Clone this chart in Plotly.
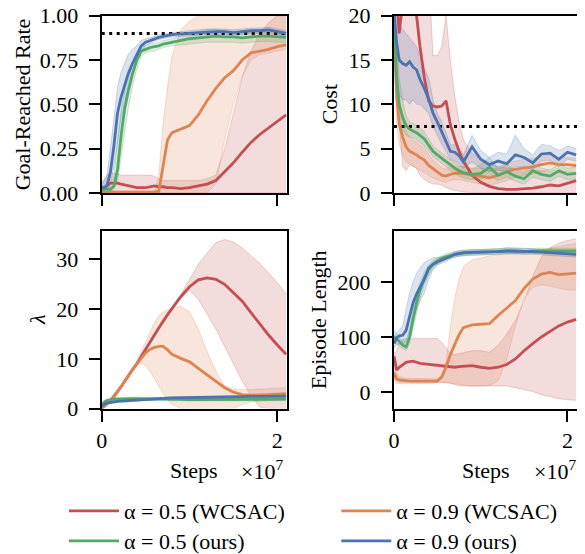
import plotly.graph_objects as go

FONT = "Liberation Serif"
FS = 22

RED = "#C44E52"
ORANGE = "#DD8452"
GREEN = "#55A868"
BLUE = "#4C72B0"

steps = [0, 0.03, 0.06, 0.1, 0.14, 0.18, 0.22, 0.26, 0.3, 0.35, 0.4, 0.45, 0.5, 0.55, 0.6, 0.65,
         0.7, 0.75, 0.8, 0.9, 1.0, 1.1, 1.2, 1.3, 1.4, 1.5, 1.6, 1.7, 1.8, 1.9, 2.0, 2.1]

series_names = ["α = 0.5 (WCSAC)", "α = 0.9 (WCSAC)", "α = 0.5 (ours)", "α = 0.9 (ours)"]
y_titles = ["Goal-Reached Rate", "Cost", "<i>λ</i>", "Episode Length"]
x_title = "Steps"

# ---- Goal-Reached Rate ----
goal_red = [0.02,0.03,0.045,0.055,0.055,0.055,0.05,0.045,0.04,0.035,0.03,0.03,0.03,0.035,0.04,0.035,0.035,0.03,0.03,0.025,0.03,0.04,0.05,0.07,0.12,0.17,0.23,0.285,0.33,0.365,0.4,0.44]
goal_red_lo = [0,0,0,0,0,0,0,0,0,0,0,0,0,0,0,0,0,0,0,0,0,0,0,0,0,0,0,0,0,0,0,0]
goal_red_hi = [0.04,0.08,0.1,0.11,0.11,0.11,0.1,0.1,0.1,0.1,0.1,0.1,0.1,0.1,0.095,0.08,0.07,0.07,0.07,0.07,0.07,0.07,0.08,0.1,0.25,0.45,0.65,0.8,0.9,0.96,1.0,1.0]
goal_orange = [0.005,0.005,0.005,0.005,0.005,0.005,0.005,0.005,0.005,0.005,0.005,0.005,0.005,0.005,0.005,0.01,0.16,0.3,0.34,0.36,0.38,0.44,0.52,0.59,0.65,0.69,0.75,0.79,0.8,0.81,0.825,0.835]
goal_orange_lo = [0,0,0,0,0,0,0,0,0,0,0,0,0,0,0,0,0,0,0,0,0,0,0,0.05,0.3,0.5,0.66,0.75,0.78,0.79,0.8,0.81]
goal_orange_hi = [0.01,0.01,0.01,0.01,0.01,0.01,0.01,0.01,0.01,0.01,0.01,0.01,0.01,0.01,0.01,0.1,0.4,0.6,0.77,0.92,0.97,1.0,1.0,1.0,1.0,1.0,1.0,1.0,1.0,1.0,1.0,1.0]
goal_green = [0.02,0.02,0.02,0.02,0.04,0.13,0.32,0.47,0.57,0.67,0.75,0.8,0.81,0.82,0.825,0.83,0.84,0.845,0.85,0.86,0.87,0.875,0.88,0.885,0.88,0.88,0.875,0.88,0.885,0.885,0.88,0.878]
goal_green_lo = [0.0,0.0,0.0,0.0,0.02,0.06,0.2,0.35,0.47,0.6,0.7,0.77,0.79,0.8,0.8,0.81,0.82,0.825,0.83,0.835,0.84,0.845,0.85,0.85,0.85,0.85,0.845,0.85,0.855,0.855,0.85,0.85]
goal_green_hi = [0.04,0.04,0.05,0.05,0.1,0.28,0.46,0.58,0.66,0.73,0.79,0.83,0.83,0.84,0.845,0.85,0.86,0.865,0.87,0.885,0.9,0.91,0.92,0.925,0.915,0.91,0.905,0.91,0.92,0.92,0.91,0.905]
goal_blue = [0.03,0.03,0.04,0.12,0.27,0.45,0.54,0.61,0.67,0.73,0.785,0.83,0.85,0.86,0.87,0.878,0.883,0.888,0.893,0.897,0.9,0.905,0.91,0.91,0.91,0.905,0.91,0.915,0.915,0.92,0.91,0.9]
goal_blue_lo = [0.0,0.0,0.01,0.05,0.15,0.3,0.42,0.5,0.58,0.67,0.75,0.8,0.83,0.845,0.855,0.865,0.87,0.875,0.88,0.885,0.885,0.89,0.895,0.895,0.895,0.89,0.895,0.9,0.9,0.905,0.895,0.885]
goal_blue_hi = [0.06,0.07,0.1,0.25,0.42,0.6,0.68,0.73,0.78,0.81,0.83,0.86,0.87,0.875,0.885,0.89,0.895,0.9,0.905,0.91,0.915,0.92,0.925,0.925,0.925,0.92,0.925,0.93,0.93,0.935,0.925,0.915]

# ---- Cost ----
cost_red = [25,22,18,22,25,24,22,20,16.5,13,10.4,9.8,9.7,9.8,10.4,7.7,6.1,4.7,3.6,2.0,1.2,0.75,0.5,0.4,0.4,0.45,0.55,0.7,0.9,0.8,1.1,1.4]
cost_red_lo = [20,14,8,3,2.5,3.2,3.0,2.8,2.0,1.5,1.2,1.0,1.0,0.9,0.6,0.4,0.3,0.2,0.1,0.05,0,0,0,0,0,0,0,0,0,0,0,0]
cost_red_hi = [30,30,30,30,30,30,30,30,30,30,25,15.5,15.5,16.5,20,15,11,8,6,4.5,3.8,3.3,3.0,2.8,2.7,2.6,2.6,2.5,2.4,2.3,2.2,2.3]
cost_orange = [19,11,7.8,6.3,5.2,4.7,4.5,4.3,4.0,3.7,3.1,2.7,2.4,2.0,1.9,2.1,2.2,2.25,2.2,2.0,1.9,1.7,2.0,2.4,2.7,2.8,2.95,3.2,3.4,3.2,3.2,3.1]
cost_orange_lo = [17,8,5.5,4.3,3.5,3.2,3.0,2.8,2.6,2.3,2.0,1.7,1.5,1.3,1.2,1.4,1.5,1.5,1.4,1.2,1.0,0.9,1.1,1.4,1.8,2.0,2.1,2.4,2.6,2.4,2.4,2.3]
cost_orange_hi = [21,15,10.5,8.5,7.0,6.3,6.0,5.8,5.4,5.0,4.3,3.7,3.3,2.8,2.7,3.0,3.0,3.0,3.0,2.8,2.8,2.6,2.9,3.4,3.6,3.8,3.9,4.1,4.3,4.0,4.0,3.9]
cost_green = [19,13,10,8.5,7.6,7.2,7.0,6.8,6.5,6.1,5.4,4.7,4.3,3.9,3.5,3.2,2.8,2.5,2.3,2.1,2.2,2.9,2.0,2.4,1.9,1.6,2.5,2.1,1.9,2.5,2.1,2.2]
cost_green_lo = [16,10,8,7,6.5,6.3,6.2,6.0,5.7,5.3,4.7,4.1,3.7,3.3,2.9,2.6,2.2,1.9,1.7,1.5,1.5,1.9,1.4,1.8,1.3,1.0,1.8,1.5,1.3,1.9,1.5,1.6]
cost_green_hi = [20,17,13,10.5,8.7,8.0,7.8,7.6,7.3,6.9,6.1,5.3,4.9,4.5,4.1,3.8,3.4,3.1,2.9,2.7,3.2,4.0,2.7,3.2,2.6,2.3,3.3,2.8,2.6,3.2,2.8,2.9]
cost_blue = [20.5,17,15,14.6,14.4,14.8,14.2,13.9,12.8,11.8,10.6,9.0,8.0,6.9,5.6,4.7,4.6,4.2,3.5,5.2,3.8,3.2,3.6,3.3,4.3,4.0,3.4,4.4,4.5,3.8,4.6,4.3]
cost_blue_lo = [19,13,11,10.5,10.5,10,10.5,10,10,9.5,9,7.5,6.5,5.5,4.7,3.8,3.6,3.3,2.8,3.5,2.8,2.4,2.6,2.4,3.0,3.0,2.6,3.6,3.7,3.0,3.8,3.6]
cost_blue_hi = [22,20.5,19,18.5,18,17.5,17,16.5,15.5,14,13,10.5,9,8,6.8,5.4,5.5,5.1,4.3,6.5,4.8,4.0,4.6,4.4,6.5,5.0,4.3,5.5,5.3,4.8,5.3,5.0]

# ---- Lambda ----
lam_red = [0,0.6,1.0,1.6,2.4,3.4,4.4,5.5,6.5,7.8,9.0,10.5,12.0,13.4,14.8,16.2,17.6,18.9,20.1,22.5,24.5,25.9,26.3,26.0,25.0,23.4,21.6,19.3,17.0,14.8,12.8,10.9]
lam_red_lo = [0,0.4,0.8,1.3,2.1,3.1,4.1,5.2,6.2,7.5,8.7,10.2,11.7,13.1,14.5,15.9,17.3,18.6,19.8,22.1,23.8,22,19,16,12.5,9,5.5,2.5,0.3,0,0,0]
lam_red_hi = [0.2,0.8,1.2,1.9,2.7,3.7,4.7,5.8,6.8,8.1,9.3,10.8,12.3,13.7,15.1,16.5,17.9,19.2,20.4,22.9,26,29,31.3,33.4,34,33.5,32.3,30.8,29.2,27.3,25.3,23]
lam_orange = [0,0.6,1.0,1.6,2.4,3.4,4.4,5.5,6.5,7.8,9.0,10.2,11.2,11.9,12.3,12.5,12.5,11.8,10.9,10.1,9.4,8.1,6.8,5.5,4.2,3.3,2.8,2.7,2.7,2.8,2.9,3.0]
lam_orange_lo = [0,0.4,0.8,1.3,2.1,3.1,4.1,5.2,6.2,7.5,8.8,9.1,8.6,7.5,6.0,4.5,3.0,1.8,0.8,0,0,0,0,0,0,0,0.8,1.3,1.5,1.6,1.7,1.8]
lam_orange_hi = [0.2,0.8,1.2,1.9,2.7,3.7,4.7,5.8,6.8,8.1,9.5,11.5,13.5,15.5,17.3,18.7,19.4,19.9,20.3,20.6,19.5,16,11.5,7.5,4.6,3.9,3.8,3.8,3.9,4.0,4.1,4.2]
lam_green = [0.5,1.3,1.6,1.8,1.9,1.9,1.95,1.95,2.0,2.0,2.0,2.0,2.0,2.0,2.0,2.0,2.0,1.95,1.9,1.85,1.8,1.8,1.85,1.9,1.9,1.9,1.9,1.9,1.9,1.9,1.9,1.9]
lam_green_lo = [0.3,1.0,1.3,1.5,1.6,1.6,1.65,1.65,1.7,1.7,1.7,1.7,1.7,1.7,1.7,1.7,1.7,1.65,1.6,1.55,1.5,1.5,1.55,1.6,1.6,1.6,1.6,1.6,1.6,1.6,1.6,1.6]
lam_green_hi = [0.7,1.6,1.9,2.1,2.2,2.2,2.25,2.25,2.3,2.3,2.3,2.3,2.3,2.3,2.3,2.3,2.3,2.25,2.2,2.15,2.1,2.1,2.15,2.2,2.2,2.2,2.2,2.2,2.2,2.2,2.2,2.2]
lam_blue = [0.5,0.9,1.1,1.25,1.35,1.45,1.5,1.55,1.6,1.7,1.8,1.85,1.9,1.95,2.0,2.05,2.1,2.12,2.15,2.2,2.25,2.3,2.32,2.35,2.38,2.4,2.42,2.44,2.45,2.46,2.48,2.5]
lam_blue_lo = [0.3,0.7,0.9,1.05,1.15,1.25,1.3,1.35,1.4,1.5,1.6,1.65,1.7,1.75,1.8,1.85,1.9,1.92,1.95,2.0,2.05,2.1,2.12,2.15,2.18,2.2,2.22,2.24,2.25,2.26,2.28,2.3]
lam_blue_hi = [0.7,1.1,1.3,1.45,1.55,1.65,1.7,1.75,1.8,1.9,2.0,2.05,2.1,2.15,2.2,2.25,2.3,2.32,2.35,2.4,2.45,2.5,2.52,2.55,2.58,2.6,2.62,2.64,2.65,2.66,2.68,2.7]

# ---- Episode Length ----
ep_red = [65,40,45,50,54,55,56,54,52,51,50,49,48,47,47,45,45,46,47,48,45,43,45,50,60,75,88,100,110,120,127,132]
ep_red_lo = [25,20,18,18,18,18,18,18,18,18,18,18,18,18,18,16,14,11,11,11,11,11,11,11,8,5,1,-5,-9,-12,-14,-15]
ep_red_hi = [70,75,90,95,97,97,97,97,97,97,97,97,97,90,80,70,68,70,72,75,75,72,85,105,130,165,210,245,262,270,275,278]
ep_orange = [35,24,22,21,20,20,20,20,20,20,20,20,20,27,45,68,86,104,117,122,123,124,139,152,166,188,205,214,217,213,215,216]
ep_orange_lo = [20,15,15,15,15,15,15,15,15,15,15,16,17,17,17,16,15,14,12,11,11,12,20,60,120,170,190,195,192,188,185,185]
ep_orange_hi = [60,35,28,26,25,25,25,25,25,25,25,25,24,30,55,120,170,205,228,240,244,247,249,250,252,253,255,258,262,265,268,270]
ep_green = [100,97,92,85,82,100,132,162,185,207,222,232,238,243,246,248,250,251,252,253,254,255,255,256,256,255,256,256,255,255,256,256]
ep_green_lo = [90,88,84,78,76,88,115,145,170,195,212,225,232,237,241,243,245,246,247,248,249,250,250,251,251,250,251,251,250,250,251,251]
ep_green_hi = [112,106,100,92,90,115,150,180,198,218,230,239,244,248,251,253,255,256,257,258,259,260,260,261,261,260,261,261,260,260,261,261]
ep_blue = [88,98,102,103,112,140,162,178,190,205,225,232,236,239,242,246,250,252,253,254,254,254,255,256,256,256,255,254,253,252,251,250]
ep_blue_lo = [80,85,88,85,95,110,130,150,165,180,205,222,230,234,237,241,245,247,248,249,249,249,250,251,251,251,250,249,248,247,246,245]
ep_blue_hi = [100,108,112,120,150,180,200,215,225,235,240,244,244,245,247,251,255,257,258,259,259,259,260,262,262,261,260,259,258,257,256,255]

panels = [
    ("x", "y", [(goal_red, goal_red_lo, goal_red_hi), (goal_orange, goal_orange_lo, goal_orange_hi),
                (goal_green, goal_green_lo, goal_green_hi), (goal_blue, goal_blue_lo, goal_blue_hi)], 0.9),
    ("x2", "y2", [(cost_red, cost_red_lo, cost_red_hi), (cost_orange, cost_orange_lo, cost_orange_hi),
                  (cost_green, cost_green_lo, cost_green_hi), (cost_blue, cost_blue_lo, cost_blue_hi)], 7.5),
    ("x3", "y3", [(lam_red, lam_red_lo, lam_red_hi), (lam_orange, lam_orange_lo, lam_orange_hi),
                  (lam_green, lam_green_lo, lam_green_hi), (lam_blue, lam_blue_lo, lam_blue_hi)], None),
    ("x4", "y4", [(ep_red, ep_red_lo, ep_red_hi), (ep_orange, ep_orange_lo, ep_orange_hi),
                  (ep_green, ep_green_lo, ep_green_hi), (ep_blue, ep_blue_lo, ep_blue_hi)], None),
]

colors = [RED, ORANGE, GREEN, BLUE]
legend_ids = ["legend", "legend2", "legend3", "legend4"]
groups = ["r", "o", "g", "b"]


def rgba(hexc, a):
    h = hexc.lstrip("#")
    return "rgba(%d,%d,%d,%s)" % (int(h[0:2], 16), int(h[2:4], 16), int(h[4:6], 16), a)


fig = go.Figure()
X_MAX = 2.11

for pi, (xa, ya, sers, thresh) in enumerate(panels):
    for si, (mean, lo, hi) in enumerate(sers):
        c = colors[si]
        fig.add_trace(go.Scatter(x=steps, y=hi, xaxis=xa, yaxis=ya, mode="lines",
                                 line=dict(color=rgba(c, 0.25), width=1), showlegend=False,
                                 legendgroup=groups[si], hoverinfo="skip"))
        fig.add_trace(go.Scatter(x=steps, y=lo, xaxis=xa, yaxis=ya, mode="lines",
                                 line=dict(color=rgba(c, 0.25), width=1), fill="tonexty",
                                 fillcolor=rgba(c, 0.2), showlegend=False,
                                 legendgroup=groups[si], hoverinfo="skip"))
    if thresh is not None:
        fig.add_trace(go.Scatter(x=[0, X_MAX], y=[thresh, thresh], xaxis=xa, yaxis=ya, mode="lines",
                                 line=dict(color="black", width=3, dash="3px,4.5px"),
                                 showlegend=False, hoverinfo="skip"))
    for si, (mean, lo, hi) in enumerate(sers):
        fig.add_trace(go.Scatter(x=steps, y=mean, xaxis=xa, yaxis=ya, mode="lines",
                                 line=dict(color=colors[si], width=2.8),
                                 name=series_names[si], legendgroup=groups[si],
                                 legend=legend_ids[si], showlegend=(pi == 0)))

# The HTML body has an 8px margin: the figure starts at page (8, 8).
OFF = 8
W, H = 577, 554


def fx(p):
    return (p - OFF) / W


def fy(p):
    return (OFF + H - p) / H


xl = [fx(101.7), fx(287)]
xr = [fx(394), fx(577)]
yt = [fy(193.3), fy(15.7)]
yb = [fy(409.3), fy(231)]

tickfont = dict(family=FONT, size=FS, color="black")
axbase = dict(showline=True, linecolor="black", linewidth=2, mirror=True, ticks="outside",
              ticklen=11, tickwidth=2, tickcolor="black", showgrid=False, zeroline=False,
              tickfont=tickfont, automargin=False, ticklabeloverflow="allow")

xticks = dict(range=[0, X_MAX], tickvals=[0, 2], ticktext=["0", "2"], ticklabelstandoff=0)
ylab = dict(ticklabelstandoff=6)

leg = dict(xanchor="left", yanchor="middle", orientation="v",
           font=dict(family=FONT, size=FS, color="black"), bgcolor="rgba(0,0,0,0)",
           itemwidth=50)

fig.update_layout(
    template="none",
    width=W, height=H, margin=dict(l=0, r=0, t=0, b=0, pad=0),
    paper_bgcolor="white", plot_bgcolor="white",
    font=dict(family=FONT, size=FS, color="black"),
    xaxis=dict(axbase, domain=xl, anchor="y", showticklabels=False, **xticks),
    xaxis2=dict(axbase, domain=xr, anchor="y2", showticklabels=False, **xticks),
    xaxis3=dict(axbase, domain=xl, anchor="y3", **xticks),
    xaxis4=dict(axbase, domain=xr, anchor="y4", **xticks),
    yaxis=dict(axbase, domain=yt, anchor="x", range=[0, 1], tickvals=[0, 0.25, 0.5, 0.75, 1.0],
               ticktext=["0.00", "0.25", "0.50", "0.75", "1.00"], **ylab),
    yaxis2=dict(axbase, domain=yt, anchor="x2", range=[0, 20], tickvals=[0, 5, 10, 15, 20], **ylab),
    yaxis3=dict(axbase, domain=yb, anchor="x3", range=[0, 35.8], tickvals=[0, 10, 20, 30], **ylab),
    yaxis4=dict(axbase, domain=yb, anchor="x4", range=[-30, 293], tickvals=[0, 100, 200], **ylab),
    legend=dict(leg, x=fx(64), y=fy(511)),
    legend2=dict(leg, x=fx(336.3), y=fy(511)),
    legend3=dict(leg, x=fx(64), y=fy(542.3)),
    legend4=dict(leg, x=fx(336.3), y=fy(542.3)),
    showlegend=True,
)

anno_font = dict(family=FONT, size=FS, color="black")
for text, cx, cy in [(y_titles[0], 22, 104.5), (y_titles[1], 329, 104.5),
                     (y_titles[2], 37.5, 320), (y_titles[3], 318.7, 320)]:
    fig.add_annotation(x=fx(cx), y=fy(cy), xref="paper", yref="paper", text=text,
                       textangle=-90, showarrow=False, xanchor="center", yanchor="middle",
                       font=anno_font)
for cx, rx in [(194, 285), (486, 578)]:
    fig.add_annotation(x=fx(cx), y=fy(471.7), xref="paper", yref="paper", text=x_title,
                       showarrow=False, xanchor="center", yanchor="middle", font=anno_font)
    fig.add_annotation(x=fx(rx), y=fy(471), xref="paper", yref="paper",
                       text="×10<sup>7</sup>", showarrow=False, xanchor="right", yanchor="middle",
                       font=anno_font)

fig.write_html("out.html")
